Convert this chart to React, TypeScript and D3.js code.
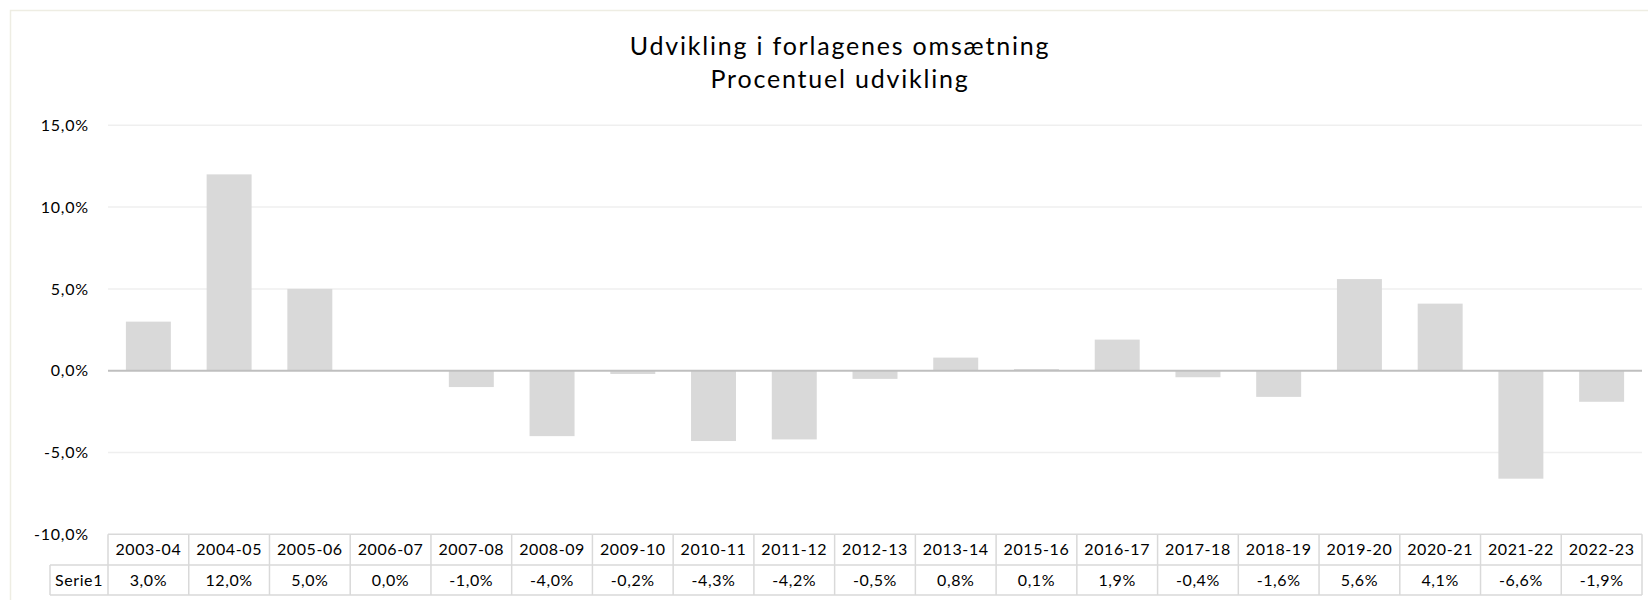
import React from "react";
import * as d3 from "d3";

const categories = ["2003-04","2004-05","2005-06","2006-07","2007-08","2008-09","2009-10","2010-11","2011-12","2012-13","2013-14","2015-16","2016-17","2017-18","2018-19","2019-20","2020-21","2021-22","2022-23"];
const values = [3.0,12.0,5.0,0.0,-1.0,-4.0,-0.2,-4.3,-4.2,-0.5,0.8,0.1,1.9,-0.4,-1.6,5.6,4.1,-6.6,-1.9];
const yTicks = [15,10,5,0,-5,-10];
const seriesName = "Serie1";
const titleLines = ["Udvikling i forlagenes omsætning","Procentuel udvikling"];

const fmt = (v: number) => v.toFixed(1).replace(".", ",") + "%";

export default function App() {
  const W = 1648, H = 600;
  const plotL = 108, plotR = 1642;
  const x = d3.scaleBand<string>().domain(categories).range([plotL, plotR]).padding(0);
  const y = d3.scaleLinear().domain([-10, 15]).range([534.3, 125.3]);
  const bw = x.bandwidth();
  const barW = bw * 0.557;
  const row1Top = y(-10), row1Bot = 565, row2Bot = 595;
  const font = "Lato, 'Open Sans', sans-serif";
  const grid = "#d9d9d9";
  return (
    <svg width={W} height={H} style={{ position: "absolute", left: 0, top: 0, background: "#fff" }} fontFamily={font}>
      <rect x={10.5} y={10.5} width={1700} height={700} fill="#fff" stroke="#eeede3" strokeWidth={1.5} />
      {titleLines.map((t, i) => (
        <text key={t} x={840} y={55 + i * 33} textAnchor="middle" fontSize={25} letterSpacing={1.8} fill="#000">{t}</text>
      ))}
      {yTicks.filter(t => t !== 0 && t !== -10).map(t => (
        <line key={t} x1={plotL} x2={plotR} y1={y(t)} y2={y(t)} stroke="#efefef" strokeWidth={1.5} />
      ))}
      {yTicks.map(t => (
        <text key={"l" + t} x={89} y={y(t)} dy="0.35em" textAnchor="end" fontSize={16} letterSpacing={0.8} fill="#000">{fmt(t)}</text>
      ))}
      {categories.map((c, i) => {
        const v = values[i];
        const y0 = y(0), y1 = y(v);
        return (
          <rect key={c} x={(x(c) as number) + (bw - barW) / 2} width={barW} y={Math.min(y0, y1)} height={Math.abs(y1 - y0)} fill="#d9d9d9" />
        );
      })}
      <line x1={plotL} x2={plotR} y1={y(0)} y2={y(0)} stroke="#bfbfbf" strokeWidth={2} />
      <g stroke={grid} strokeWidth={1.5} fill="none">
        <line x1={plotL} x2={plotR} y1={row1Top} y2={row1Top} />
        <line x1={50} x2={plotR} y1={row1Bot} y2={row1Bot} />
        <line x1={50} x2={plotR} y1={row2Bot} y2={row2Bot} />
        <line x1={50} x2={50} y1={row1Bot} y2={row2Bot} />
        {categories.map(c => (
          <line key={c} x1={x(c) as number} x2={x(c) as number} y1={row1Top} y2={row2Bot} />
        ))}
        <line x1={plotR} x2={plotR} y1={row1Top} y2={row2Bot} />
      </g>
      <text x={(50 + plotL) / 2} y={(row1Bot + row2Bot) / 2} dy="0.35em" textAnchor="middle" fontSize={16} letterSpacing={0.6}>{seriesName}</text>
      {categories.map((c, i) => (
        <g key={"t" + c}>
          <text x={(x(c) as number) + bw / 2} y={(row1Top + row1Bot) / 2} dy="0.35em" textAnchor="middle" fontSize={16} letterSpacing={0.6}>{c}</text>
          <text x={(x(c) as number) + bw / 2} y={(row1Bot + row2Bot) / 2} dy="0.35em" textAnchor="middle" fontSize={16} letterSpacing={0.6}>{fmt(values[i])}</text>
        </g>
      ))}
    </svg>
  );
}
